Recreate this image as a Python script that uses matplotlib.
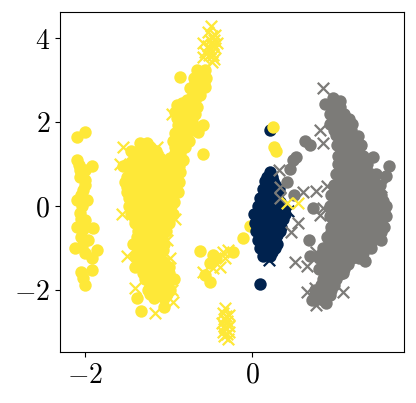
import matplotlib
matplotlib.use("Agg")
import matplotlib.pyplot as plt

plt.rcParams['mathtext.fontset'] = 'cm'
plt.rcParams['font.family'] = ['DejaVu Serif']

XLIM = (-2.3, 1.82)
YLIM = (-3.48, 4.62)
X_TICKS = [-2, 0]
Y_TICKS = [-2, 0, 2, 4]

NAVY = '#00224e'
GREY = '#7c7b78'
YELLOW = '#fee838'

# each row: (y value, x values read along that row)
yellow_main_rows = [
    (1.5, [-1.34, -1.26]),
    (1.3, [-1.45, -1.35, -1.25, -1.15]),
    (1.15, [-1.4, -1.3, -1.2, -1.1, -0.98]),
    (0.95, [-1.55, -1.45, -1.35, -1.25, -1.15, -1.05, -0.95, -0.87]),
    (0.7, [-1.5, -1.4, -1.3, -1.2, -1.1, -1.0, -0.92]),
    (0.45, [-1.5, -1.4, -1.3, -1.2, -1.1, -1.0, -0.92]),
    (0.2, [-1.47, -1.37, -1.27, -1.17, -1.07, -0.97]),
    (0.0, [-1.47, -1.37, -1.27, -1.17, -1.07, -0.97]),
    (-0.2, [-1.45, -1.35, -1.25, -1.15, -1.05, -0.95]),
    (-0.4, [-1.4, -1.3, -1.2, -1.1, -1.0]),
    (-0.6, [-1.37, -1.27, -1.17, -1.07, -1.03]),
    (-0.9, [-1.42, -1.32, -1.22, -1.12, -1.05]),
    (-1.2, [-1.4, -1.3, -1.2, -1.1]),
    (-1.45, [-1.4, -1.3, -1.2, -1.1, -1.0]),
    (-1.75, [-1.28, -1.18, -1.08, -0.98, -0.93]),
    (-2.0, [-1.25, -1.15, -1.05, -0.98]),
    (-2.2, [-1.38, -1.18, -1.05]),
    (-2.4, [-1.05]),
    (-2.5, [-1.33]),
]
yellow_fill_rows = [
    (1.4, [-1.3, -1.22]),
    (1.05, [-1.45, -1.35, -1.25, -1.15, -1.05, -0.93]),
    (0.82, [-1.45, -1.35, -1.25, -1.15, -1.05, -0.95, -0.86]),
    (0.58, [-1.52, -1.45, -1.35, -1.25, -1.15, -1.05, -0.95, -0.88]),
    (0.33, [-1.5, -1.45, -1.35, -1.25, -1.15, -1.05, -0.95, -0.89]),
    (0.1, [-1.42, -1.32, -1.22, -1.12, -1.02, -0.93]),
    (-0.1, [-1.42, -1.32, -1.22, -1.12, -1.02]),
    (-0.3, [-1.4, -1.3, -1.2, -1.1, -1.0]),
    (-0.5, [-1.35, -1.25, -1.15, -1.05]),
    (-0.75, [-1.38, -1.28, -1.18, -1.08]),
    (-1.05, [-1.37, -1.27, -1.17, -1.07]),
    (-1.33, [-1.35, -1.25, -1.15, -1.05]),
    (-1.6, [-1.3, -1.2, -1.1, -1.0]),
    (-1.88, [-1.22, -1.12, -1.02]),
    (-2.1, [-1.22, -1.12, -1.02]),
]
yellow_arm = [
    (-0.66, 3.24), (-0.56, 3.24), (-0.62, 3.1), (-0.86, 3.07), (-0.74, 2.81), (-0.62, 2.81),
    (-0.56, 2.83), (-0.9, 2.4), (-0.78, 2.52), (-0.68, 2.52), (-0.8, 2.29), (-0.92, 2.24),
    (-0.86, 2.05), (-0.78, 1.93), (-0.92, 1.74), (-0.8, 1.69), (-0.89, 1.93), (-0.59, 1.93),
    (-0.65, 1.76), (-0.9, 1.45), (-0.8, 1.4), (-0.83, 1.1), (-0.59, 1.24), (-0.92, 1.26),
    (-0.72, 2.6), (-0.72, 2.1), (-0.7, 3.05), (-0.55, 3.05), (-0.68, 2.92), (-0.58, 2.95),
    (-0.7, 2.7), (-0.62, 2.65), (-0.84, 2.45), (-0.72, 2.4), (-0.66, 2.35), (-0.78, 2.15),
    (-0.68, 2.2), (-0.72, 1.95), (-0.86, 1.82), (-0.72, 1.8), (-0.86, 1.58), (-0.76, 1.55),
    (-0.95, 1.55), (-0.86, 1.25), (-0.92, 1.4), (-0.72, 2.0), (-0.8, 2.1), (-0.9, 2.1),
]
yellow_left = [
    (-2.0, 1.76), (-2.1, 1.64), (-2.1, 1.1), (-2.06, 0.86), (-1.92, 0.95), (-2.0, 0.86),
    (-2.0, 0.62), (-2.02, 0.38), (-2.1, 0.14), (-1.98, 0.14), (-2.06, -0.17), (-2.1, -0.5),
    (-2.0, -0.33), (-1.9, -0.52), (-1.96, -0.81), (-2.05, -0.74), (-2.12, -1.0), (-2.0, -1.12),
    (-1.86, -1.05), (-1.92, -1.24), (-1.92, -1.52), (-2.05, -1.57), (-2.02, -1.71), (-2.0, -1.88),
    (-2.06, 0.7), (-2.0, 0.5), (-2.05, 0.25), (-2.04, 0.0), (-2.05, -0.3), (-2.02, -0.55),
    (-2.04, -0.95), (-2.07, 0.98),
]
yellow_mid = [
    (-0.62, -1.07), (-0.23, -1.1), (-0.5, -1.36), (-0.47, -1.17), (-0.56, -1.64), (-0.5, -1.81),
    (-0.43, -1.24), (-0.11, -0.76), (-0.02, -0.48), (0.25, 1.87), (0.26, 1.4), (0.29, 1.3),
]
yellow_cross = [
    (-1.55, 1.4), (-1.14, 1.4), (-1.58, 1.0), (-0.96, 2.2), (-1.56, -0.2), (-1.02, -0.8),
    (-1.5, -1.2), (-0.98, -1.25), (-1.4, -1.95), (-0.96, -2.0), (-0.95, -2.3), (-1.16, -2.55),
    (-0.92, -0.3),
    (-0.49, 4.29), (-0.53, 4.14), (-0.44, 4.07), (-0.59, 3.88), (-0.42, 3.88), (-0.56, 3.67),
    (-0.44, 3.76), (-0.5, 3.95), (-0.47, 3.6), (-0.48, 3.43), (-0.59, 3.55), (-0.5, 3.75),
    (-0.46, 3.95), (-0.53, 3.82), (-0.45, 3.5), (-0.48, 4.05), (-0.52, 3.6), (-0.47, 3.85),
    (-0.29, -1.05), (-0.35, -1.1), (-0.38, -1.45), (-0.59, -1.57), (-0.47, -1.48), (-0.32, -1.24),
    (-0.32, -2.42), (-0.35, -2.55), (-0.28, -2.6), (-0.33, -2.7), (-0.3, -2.75), (-0.36, -2.8),
    (-0.27, -2.85), (-0.32, -2.9), (-0.35, -3.0), (-0.28, -3.0), (-0.33, -3.1), (-0.29, -3.18),
    (-0.31, -2.62), (-0.33, -2.85), (-0.3, -3.05),
    (0.42, 0.06), (0.55, 0.06),
]
grey_main_rows = [
    (2.5, [0.97, 1.05]),
    (2.2, [0.93, 1.03, 1.1]),
    (1.95, [0.93, 1.03, 1.13, 1.2]),
    (1.7, [1.0, 1.1, 1.2]),
    (1.45, [1.02, 1.12, 1.22, 1.3]),
    (1.2, [1.03, 1.13, 1.23, 1.33]),
    (1.0, [1.03, 1.13, 1.23, 1.33, 1.38]),
    (0.75, [1.0, 1.1, 1.2, 1.3, 1.42, 1.48]),
    (0.5, [0.98, 1.08, 1.18, 1.28, 1.38, 1.45, 1.53]),
    (0.25, [0.95, 1.05, 1.15, 1.25, 1.35, 1.45, 1.55]),
    (0.0, [0.93, 1.03, 1.13, 1.23, 1.33, 1.43, 1.53, 1.6]),
    (-0.25, [0.93, 1.03, 1.13, 1.23, 1.33, 1.43, 1.55, 1.6]),
    (-0.5, [0.95, 1.05, 1.15, 1.25, 1.35, 1.45, 1.53, 1.58]),
    (-0.75, [0.9, 1.0, 1.1, 1.2, 1.3, 1.4, 1.5]),
    (-1.0, [0.85, 0.95, 1.05, 1.15, 1.25, 1.35, 1.43]),
    (-1.25, [0.8, 0.9, 1.0, 1.1, 1.2, 1.28]),
    (-1.5, [0.8, 0.9, 1.0, 1.1]),
    (-1.75, [0.85, 0.95, 1.0]),
    (-2.0, [0.75, 0.85, 0.95]),
    (-2.25, [0.75, 0.85]),
]
grey_fill_rows = [
    (2.35, [0.97, 1.05]),
    (2.08, [0.98, 1.08, 1.16]),
    (1.82, [0.98, 1.08, 1.18]),
    (1.58, [1.05, 1.15, 1.25]),
    (1.32, [1.07, 1.17, 1.27]),
    (1.1, [1.08, 1.18, 1.28]),
    (0.88, [1.07, 1.17, 1.27, 1.37]),
    (0.62, [1.05, 1.15, 1.25, 1.35, 1.45]),
    (0.38, [1.02, 1.12, 1.22, 1.32, 1.42, 1.5]),
    (0.12, [1.0, 1.1, 1.2, 1.3, 1.4, 1.5, 1.57]),
    (-0.12, [0.98, 1.08, 1.18, 1.28, 1.38, 1.48, 1.58]),
    (-0.38, [0.98, 1.08, 1.18, 1.28, 1.38, 1.48, 1.55]),
    (-0.62, [0.95, 1.05, 1.15, 1.25, 1.35, 1.45, 1.54]),
    (-0.88, [0.92, 1.02, 1.12, 1.22, 1.32, 1.42]),
    (-1.12, [0.85, 0.95, 1.05, 1.15, 1.25, 1.33]),
    (-1.38, [0.85, 0.95, 1.05, 1.15]),
    (-1.62, [0.88, 0.98, 1.05]),
    (-1.88, [0.82, 0.92, 0.98]),
    (-2.12, [0.75, 0.85, 0.93]),
]
grey_other = [
    (1.27, 1.67), (0.63, 1.55), (0.69, 1.45), (1.45, 1.16), (1.64, 0.95), (1.6, 0.71),
    (0.53, 1.17), (0.49, 1.09), (0.46, 0.89), (0.42, 0.58), (0.5, 0.26), (0.73, -0.05),
    (0.68, -0.81), (0.7, -1.2), (1.35, -1.32), (1.09, -1.6), (0.89, -2.32), (0.72, -2.24),
    (1.54, -0.81), (0.97, 2.56), (0.87, 2.44),
]
grey_cross = [
    (0.85, 2.8), (0.81, 1.81), (0.85, 1.49), (1.29, 1.25), (0.32, 0.86), (0.34, 0.46),
    (0.33, 0.18), (0.61, 0.34), (0.77, 0.36), (0.9, 0.48), (0.85, -0.05), (0.81, -0.21),
    (0.55, -0.4), (0.47, -0.62), (0.51, -1.33), (0.66, -1.44), (0.77, -1.09), (1.09, -2.04),
    (0.66, -2.04), (0.75, -1.96), (0.77, -2.36), (1.55, 0.46),
]
navy_rows = [
    (0.8, [0.22]),
    (0.6, [0.15, 0.25]),
    (0.4, [0.13, 0.23, 0.32]),
    (0.2, [0.1, 0.2, 0.3]),
    (0.0, [0.07, 0.17, 0.27, 0.37]),
    (-0.2, [0.02, 0.12, 0.22, 0.32, 0.4]),
    (-0.4, [0.03, 0.13, 0.23, 0.33]),
    (-0.6, [0.05, 0.15, 0.25, 0.33]),
    (-0.8, [0.07, 0.17, 0.27]),
    (-1.0, [0.1, 0.2, 0.28]),
    (-1.2, [0.13, 0.22]),
]
navy_fill_rows = [
    (0.7, [0.18, 0.24]),
    (0.5, [0.19, 0.28]),
    (0.3, [0.16, 0.26]),
    (0.1, [0.12, 0.22, 0.33]),
    (-0.1, [0.08, 0.18, 0.28, 0.38]),
    (-0.3, [0.08, 0.18, 0.28, 0.37]),
    (-0.5, [0.08, 0.18, 0.28, 0.35]),
    (-0.7, [0.1, 0.2, 0.3]),
    (-0.9, [0.12, 0.22, 0.3]),
    (-1.1, [0.15, 0.24]),
]
navy_other = [(0.21, 1.81), (0.1, -1.85)]
navy_cross = [(0.2, -1.3), (0.43, -0.11)]


def expand(rows):
    return [(x, y) for y, xs in rows for x in xs]


def draw(ax, pts, color, marker, zorder):
    xs = [p[0] for p in pts]
    ys = [p[1] for p in pts]
    if marker == 'x':
        ax.scatter(xs, ys, s=68, c=color, marker='x', linewidths=1.6, zorder=zorder)
    else:
        ax.scatter(xs, ys, s=80, c=color, marker='o', linewidths=0, zorder=zorder)


fig = plt.figure(figsize=(4.16, 4.03), dpi=100)
ax = fig.add_axes([60 / 416, 1 - 352 / 403, 344 / 416, 340 / 403])

draw(ax, navy_other, NAVY, 'o', 1)
draw(ax, expand(yellow_main_rows) + expand(yellow_fill_rows) + yellow_arm + yellow_left + yellow_mid,
     YELLOW, 'o', 2)
draw(ax, expand(navy_rows) + expand(navy_fill_rows), NAVY, 'o', 3)
draw(ax, expand(grey_main_rows) + expand(grey_fill_rows) + grey_other, GREY, 'o', 3)
draw(ax, navy_cross, NAVY, 'x', 4)
draw(ax, grey_cross, GREY, 'x', 5)
draw(ax, yellow_cross, YELLOW, 'x', 5)

ax.set_xlim(*XLIM)
ax.set_ylim(*YLIM)
ax.set_xticks(X_TICKS)
ax.set_yticks(Y_TICKS)
ax.set_xticklabels([f'${v}$' for v in X_TICKS])
ax.set_yticklabels([f'${v}$' for v in Y_TICKS])
ax.tick_params(labelsize=20, length=3.5, width=0.8)

fig.savefig('out.png', dpi=100)
